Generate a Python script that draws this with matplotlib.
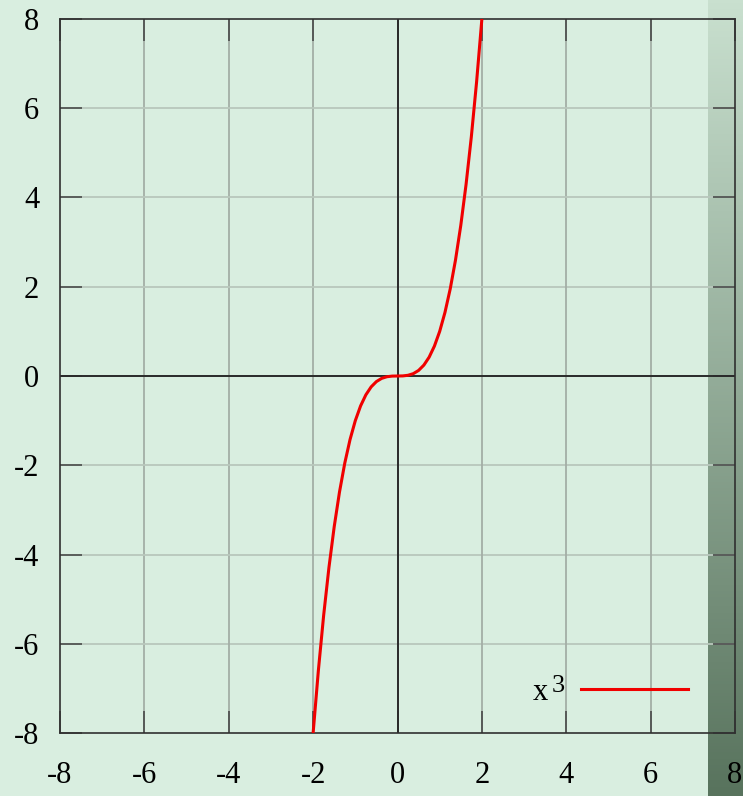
import matplotlib.pyplot as plt
import numpy as np

# Curve points
x_vals = [-2.0, -1.875, -1.75, -1.625, -1.5, -1.375, -1.25, -1.125, -1.0,
          -0.875, -0.75, -0.625, -0.5, -0.375, -0.25, -0.125, 0.0,
          0.125, 0.25, 0.375, 0.5, 0.625, 0.75, 0.875, 1.0,
          1.125, 1.25, 1.375, 1.5, 1.625, 1.75, 1.875, 2.0]
y_vals = [-8.0, -6.592, -5.359, -4.291, -3.375, -2.600, -1.953, -1.424, -1.0,
          -0.670, -0.422, -0.244, -0.125, -0.053, -0.016, -0.002, 0.0,
          0.002, 0.016, 0.053, 0.125, 0.244, 0.422, 0.670, 1.0,
          1.424, 1.953, 2.600, 3.375, 4.291, 5.359, 6.592, 8.0]
ticks = [-8, -6, -4, -2, 0, 2, 4, 6, 8]
label_base = 'x'
label_sup = '3'

bg = '#d9eee0'
plt.rcParams['font.family'] = ['Liberation Serif', 'DejaVu Serif']

W, H = 743, 796
fig = plt.figure(figsize=(W / 100, H / 100), dpi=100, facecolor=bg)

# dark gradient strip at the right edge (behind the plot)
strip = fig.add_axes([708 / W, 0, 35 / W, 1], zorder=0)
c_top = np.array([0xc9, 0xe0, 0xcf]) / 255
c_bot = np.array([0x58, 0x73, 0x5d]) / 255
t = np.linspace(0, 1, 256)[:, None, None]
grad = c_top * (1 - t) + c_bot * t
strip.imshow(np.repeat(grad, 2, axis=1), aspect='auto', extent=[0, 1, 0, 1])
strip.axis('off')

ax = fig.add_axes([60 / W, (H - 733) / H, 675 / W, 714 / H], zorder=1)
ax.set_facecolor('none')

for v in ticks[1:-1]:
    ax.axvline(v, color='#a3aea6', lw=1.3, zorder=1)
    ax.axhline(v, color='#b8c7bc', lw=1.3, zorder=1)
ax.axvline(0, color='#2a2a2a', lw=1.4, zorder=2)
ax.axhline(0, color='#2a2a2a', lw=1.4, zorder=2)

ax.plot(x_vals, y_vals, color='#f00000', lw=2.2, label=label_base, zorder=3)

ax.set_xlim(-8, 8)
ax.set_ylim(-8, 8)
ax.set_xticks(ticks)
ax.set_yticks(ticks)
ax.set_xticklabels([str(v) for v in ticks])
ax.set_yticklabels([str(v) for v in ticks])
ax.tick_params(direction='in', length=16, width=1.1, color='#404040',
               top=True, right=True, labelsize=22)
ax.tick_params(axis='x', pad=20)
ax.tick_params(axis='y', pad=15)
for s in ax.spines.values():
    s.set_color('#303030')
    s.set_linewidth(1.2)

leg = ax.legend(loc='center right', bbox_to_anchor=(0.930, 0.0574), frameon=False,
                markerfirst=False, handlelength=3.5, handletextpad=1.08,
                borderpad=0, borderaxespad=0, fontsize=22)
# gnuplot-style superscript next to the legend text (drawn after the legend)
ax.annotate(label_sup, xy=(1, 0), xycoords=leg.get_texts()[0],
            xytext=(3.0, 10.5), textcoords='offset points',
            fontsize=19, ha='left', va='baseline', zorder=10)

fig.savefig('out.png', dpi=100, facecolor=bg)
